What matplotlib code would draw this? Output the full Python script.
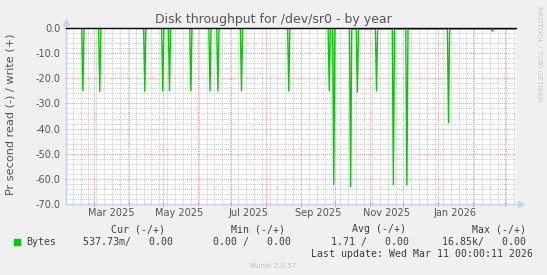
import matplotlib
matplotlib.use('Agg')
import matplotlib.pyplot as plt
import matplotlib.dates as mdates
from matplotlib.ticker import MultipleLocator, NullFormatter
from matplotlib.patches import Rectangle
import numpy as np
import pandas as pd

# Read spikes (bytes/s, read shown as negative)
spike_dates = ['2025-02-19', '2025-03-06', '2025-04-15', '2025-05-01', '2025-05-07',
               '2025-05-26', '2025-06-12', '2025-06-19', '2025-07-10', '2025-08-21',
               '2025-09-26', '2025-09-30', '2025-10-15', '2025-10-21', '2025-11-07',
               '2025-11-22', '2025-12-04', '2026-01-10', '2026-02-18']
spike_values = [-25.0, -25.3, -25.0, -25.0, -25.0,
                -25.0, -25.0, -25.0, -25.0, -25.0,
                -25.0, -62.2, -63.1, -25.5, -25.0,
                -62.4, -62.4, -37.6, -1.3]
# small constant read level seen after mid October
low_level_start = '2025-10-14'
low_level = -0.4

x_labels = ['Mar 2025', 'May 2025', 'Jul 2025', 'Sep 2025', 'Nov 2025', 'Jan 2026']
x_label_dates = ['2025-03-16', '2025-05-16', '2025-07-16', '2025-09-16', '2025-11-16', '2026-01-16']

legend_headers = ['Cur (-/+)', 'Min (-/+)', 'Avg (-/+)', 'Max (-/+)']
legend_values = ['537.73m/   0.00', '0.00 /   0.00', '1.71 /   0.00', '16.85k/   0.00']

start = pd.Timestamp('2025-02-04')
end = pd.Timestamp('2026-03-11')

days = pd.date_range(start, end, freq='D')
series = pd.Series(0.0, index=days)
series[days >= pd.Timestamp(low_level_start)] = low_level
series[pd.to_datetime(spike_dates)] = spike_values

W, H = 547, 275
fig = plt.figure(figsize=(W / 100, H / 100), dpi=100, facecolor='#F0F0F0')
ax = fig.add_axes([66 / W, (H - 204) / H, 450 / W, 176 / H])
ax.set_facecolor('white')

ax.set_xlim(start, end)
ax.set_ylim(-70, 0)

# grid
ax.yaxis.set_major_locator(MultipleLocator(10))
ax.yaxis.set_minor_locator(MultipleLocator(2))
ax.xaxis.set_major_locator(mdates.MonthLocator())
ax.xaxis.set_minor_locator(mdates.WeekdayLocator(byweekday=mdates.MO))
ax.xaxis.set_major_formatter(NullFormatter())
ax.grid(which='minor', color='#c8c8c8', linestyle=(0, (1, 1)), linewidth=0.7)
ax.grid(which='major', color='#e49a9a', linestyle=(0, (1, 1)), linewidth=0.7)
ax.set_axisbelow(True)

ax.set_yticks(np.arange(-70, 1, 10))
ax.set_yticklabels(['%.1f' % v for v in np.arange(-70, 1, 10)])
ax.tick_params(axis='y', which='major', labelsize=7, labelcolor='#555555', color='#e08080',
               length=2, direction='inout', pad=3)
ax.tick_params(axis='y', which='minor', length=0)
ax.tick_params(axis='x', which='major', length=3, color='#e08080', direction='inout')
ax.tick_params(axis='x', which='minor', length=1.5, color='#b0b0b0', direction='inout')

for s in ['top', 'right', 'left', 'bottom']:
    ax.spines[s].set_visible(False)

# axis lines with arrows
axis_col = '#C8D0F4'
ax.plot([0, 1.012], [0, 0], color=axis_col, lw=1, transform=ax.transAxes, clip_on=False, zorder=1)
ax.plot([0, 0], [0, 1.03], color=axis_col, lw=1, transform=ax.transAxes, clip_on=False, zorder=1)
ax.plot([1.012], [0], marker='>', color=axis_col, markersize=4, transform=ax.transAxes, clip_on=False)
ax.plot([0], [1.035], marker='^', color=axis_col, markersize=4, transform=ax.transAxes, clip_on=False)

# data
ax.plot(series.index, series.values, color='#00CC00', lw=1.0, zorder=3)
ax.axhline(0, color='black', lw=1, zorder=4, clip_on=False)

# x labels at mid month
for lab, d in zip(x_labels, x_label_dates):
    ax.text(mdates.date2num(pd.Timestamp(d)), (204 - 213) / 176, lab,
            transform=ax.get_xaxis_transform(), ha='center', va='center',
            fontsize=7, color='#555555')

# texts
fig.text(273 / W, 1 - 20 / H, 'Disk throughput for /dev/sr0 - by year',
         ha='center', va='center', fontsize=9, color='#555555')
fig.text(11 / W, 1 - 114 / H, 'Pr second read (-) / write (+)', rotation=90,
         ha='center', va='center', fontsize=8.1, color='#555555')
fig.text(539 / W, 1 - 54 / H, 'RRDTOOL / TOBI OETIKER', rotation=270,
         ha='center', va='center', fontsize=5.4, color='#c8c8c8')

mono = 'DejaVu Sans Mono'
for txt, xr in zip(legend_headers, [165, 285, 406, 526]):
    fig.text(xr / W, 1 - 229 / H, txt, ha='right', va='center', fontsize=7.15,
             family=mono, color='#3c3c3c')
fig.patches.append(Rectangle((14 / W, 1 - 245 / H), 6 / W, 6 / H,
                             transform=fig.transFigure, color='#00CC00'))
fig.text(26 / W, 1 - 242 / H, 'Bytes', ha='left', va='center', fontsize=7.15,
         family=mono, color='#3c3c3c')
for txt, xr in zip(legend_values, [173, 291, 409, 526]):
    fig.text(xr / W, 1 - 242 / H, txt, ha='right', va='center', fontsize=7.15,
             family=mono, color='#3c3c3c')
fig.text(533 / W, 1 - 254 / H, 'Last update: Wed Mar 11 00:00:11 2026', ha='right',
         va='center', fontsize=7.15, family=mono, color='#3c3c3c')
fig.text(273 / W, 1 - 266 / H, 'Munin 2.0.57', ha='center', va='center',
         fontsize=5, color='#bbbbbb')

fig.savefig('out.png', dpi=100, facecolor=fig.get_facecolor())
